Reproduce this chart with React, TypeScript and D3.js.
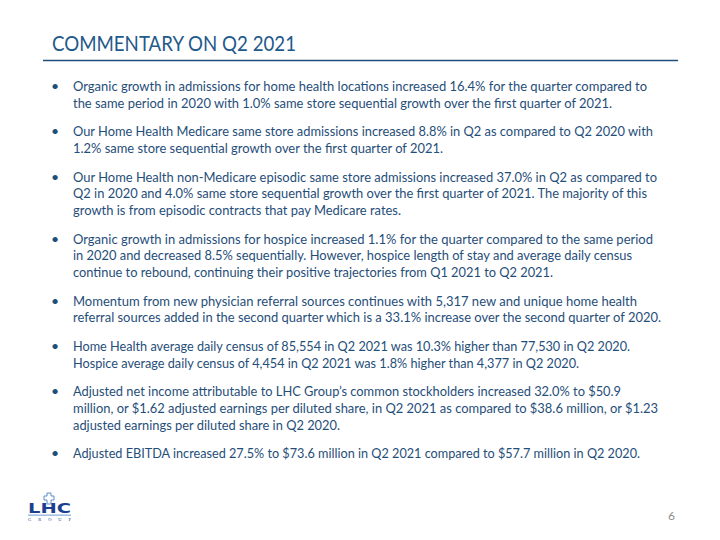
import React from "react";
import * as d3 from "d3";

const titleText = "COMMENTARY ON Q2 2021";
const pageNumber = "6";

const paragraphs: string[][] = [
  [
    "Organic growth in admissions for home health locations increased 16.4% for the quarter compared to",
    "the same period in 2020 with 1.0% same store sequential growth over the first quarter of 2021.",
  ],
  [
    "Our Home Health Medicare same store admissions increased 8.8% in Q2 as compared to Q2 2020 with",
    "1.2% same store sequential growth over the first quarter of 2021.",
  ],
  [
    "Our Home Health non-Medicare episodic same store admissions increased 37.0% in Q2 as compared to",
    "Q2 in 2020 and 4.0% same store sequential growth over the first quarter of 2021. The majority of this",
    "growth is from episodic contracts that pay Medicare rates.",
  ],
  [
    "Organic growth in admissions for hospice increased 1.1% for the quarter compared to the same period",
    "in 2020 and decreased 8.5% sequentially. However, hospice length of stay and average daily census",
    "continue to rebound, continuing their positive trajectories from Q1 2021 to Q2 2021.",
  ],
  [
    "Momentum from new physician referral sources continues with 5,317 new and unique home health",
    "referral sources added in the second quarter which is a 33.1% increase over the second quarter of 2020.",
  ],
  [
    "Home Health average daily census of 85,554 in Q2 2021 was 10.3% higher than 77,530 in Q2 2020.",
    "Hospice average daily census of 4,454 in Q2 2021 was 1.8% higher than 4,377 in Q2 2020.",
  ],
  [
    "Adjusted net income attributable to LHC Group\u2019s common stockholders increased 32.0% to $50.9",
    "million, or $1.62 adjusted earnings per diluted share, in Q2 2021 as compared to $38.6 million, or $1.23",
    "adjusted earnings per diluted share in Q2 2020.",
  ],
  [
    "Adjusted EBITDA increased 27.5% to $73.6 million in Q2 2021 compared to $57.7 million in Q2 2020.",
  ],
];

// measured right edge of each line (px) in the reference
const lineEnds: number[][] = [
  [647, 612],
  [653, 443],
  [657, 647, 401],
  [653, 632, 553],
  [637, 661],
  [630, 579],
  [621, 658, 340],
  [640],
];

const W = 720;
const H = 540;
const TEXT_X = 73;
const BULLET_X = 51;
const FIRST_BASELINE = 91;
const LINE_H = 16.65;
const PARA_GAP = 28.7;

export default function App() {
  // layout of lines via a simple cumulative scale
  const lines: { text: string; y: number; end: number; first: boolean }[] = [];
  let y = FIRST_BASELINE;
  paragraphs.forEach((p, pi) => {
    p.forEach((t, li) => {
      lines.push({ text: t, y, end: lineEnds[pi][li], first: li === 0 });
      if (li < p.length - 1) y += LINE_H;
    });
    y += PARA_GAP;
  });
  const xScale = d3.scaleLinear().domain([0, W]).range([0, W]);

  const body = "#1F4E79";
  return (
    <svg
      width={W}
      height={H}
      style={{ position: "absolute", left: 0, top: 0, background: "#fff" }}
      fontFamily="Lato, 'Open Sans', sans-serif"
    >
      <rect x={0} y={0} width={W} height={H} fill="#fff" />
      <text
        x={52}
        y={51}
        fontSize={21}
        fill="#1F5A8A"
        textLength={244}
        lengthAdjust="spacingAndGlyphs"
      >
        {titleText}
      </text>
      <line x1={43} x2={678} y1={60.5} y2={60.5} stroke="#1F4E79" strokeWidth={1.3} />
      {lines.map((l, i) => (
        <g key={i}>
          {l.first && (
            <text x={xScale(BULLET_X)} y={l.y} fontSize={14} fill={body}>
              {"\u2022"}
            </text>
          )}
          <text
            x={xScale(TEXT_X)}
            y={l.y}
            fontSize={14}
            fill={body}
            textLength={l.end - TEXT_X}
            lengthAdjust="spacingAndGlyphs"
          >
            {l.text}
          </text>
        </g>
      ))}
      <text x={668} y={520} fontSize={12} fill="#8C8C8C">
        {pageNumber}
      </text>
      {/* logo */}
      <g>
        <path
          d="M47,493 h4 v3 h3 v4 h-3 v4 h-4 v-4 h-3 v-4 h3 z"
          fill="#fff"
          stroke="#5B8FC7"
          strokeWidth={1}
        />
        <text
          x={28}
          y={513}
          fontSize={14}
          fontWeight={900}
          fill="#1D3F8F"
          fontFamily="'DejaVu Sans', sans-serif"
          textLength={43}
          lengthAdjust="spacingAndGlyphs"
        >
          LHC
        </text>
        <rect x={28} y={514.5} width={43} height={1.3} fill="#8DB3DD" />
        <text
          x={28}
          y={521}
          fontSize={4.5}
          fill="#1D3F8F"
          textLength={43}
          lengthAdjust="spacing"
          fontFamily="'Liberation Serif', serif"
        >
          GROUP
        </text>
      </g>
    </svg>
  );
}
